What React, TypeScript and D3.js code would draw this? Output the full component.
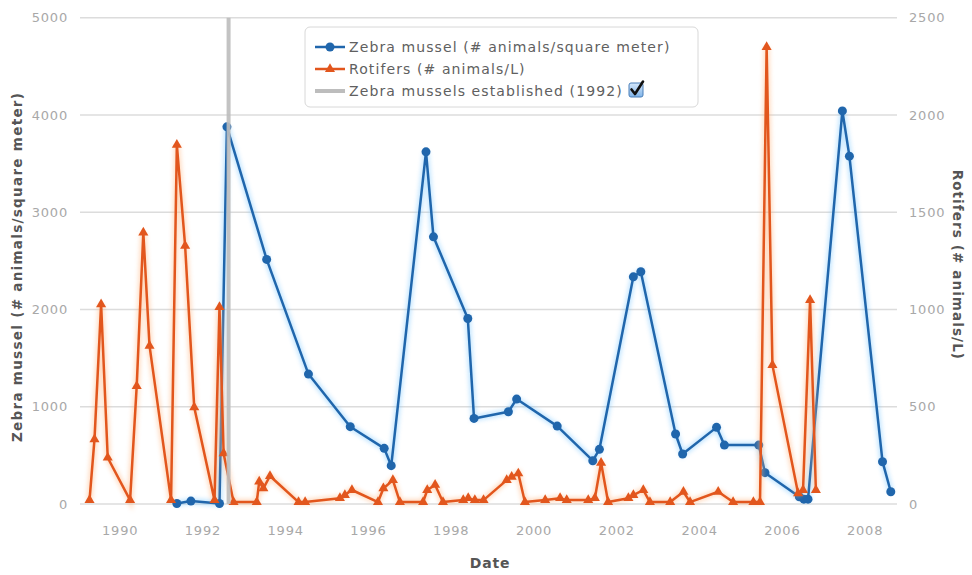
import React from 'react';
import * as d3 from 'd3';

// sampling dates as decimal years (May / August samples)
const zebraDates = [
  1991.37, 1991.71, 1992.40, 1992.58, 1993.54, 1994.55, 1995.56, 1996.38, 1996.55,
  1997.39, 1997.57, 1998.40, 1998.55, 1999.38, 1999.58, 2000.56, 2001.42, 2001.58,
  2002.40, 2002.58, 2003.42, 2003.59, 2004.41, 2004.60, 2005.43, 2005.58, 2006.41,
  2006.52, 2006.62, 2007.45, 2007.62, 2008.42, 2008.62
];
const zebraValues = [
  5, 30, 5, 3878, 2515, 1336, 795, 572, 394,
  3621, 2747, 1908, 880, 949, 1079, 801, 445, 562,
  2336, 2388, 720, 514, 788, 606, 606, 322, 75,
  50, 50, 4042, 3577, 435, 126
];

const rotiferDates = [
  1989.26, 1989.38, 1989.54, 1989.70, 1990.24, 1990.40, 1990.56, 1990.71,
  1991.23, 1991.37, 1991.57, 1991.79, 1992.28, 1992.40, 1992.50, 1992.74,
  1993.30, 1993.36, 1993.46, 1993.62, 1994.31, 1994.47, 1995.31, 1995.43,
  1995.60, 1996.23, 1996.36, 1996.59, 1996.76, 1997.32, 1997.42, 1997.61,
  1997.80, 1998.29, 1998.41, 1998.57, 1998.78, 1999.34, 1999.46, 1999.62,
  1999.78, 2000.27, 2000.63, 2000.79, 2001.31, 2001.47, 2001.62, 2001.79,
  2002.28, 2002.40, 2002.64, 2002.80, 2003.29, 2003.61, 2003.77, 2004.45,
  2004.81, 2005.30, 2005.46, 2005.62, 2005.76, 2006.38, 2006.50, 2006.67,
  2006.81
];
const rotiferValues = [
  20, 332, 1027, 238, 20, 606, 1395, 813,
  20, 1847, 1327, 497, 20, 1013, 260, 10,
  10, 115, 80, 144, 10, 10, 30, 46,
  72, 10, 80, 123, 10, 10, 72, 98,
  10, 20, 30, 20, 20, 123, 140, 157,
  10, 20, 30, 20, 20, 30, 212, 10,
  30, 46, 72, 10, 10, 63, 10, 63,
  10, 10, 10, 2349, 714, 55, 72, 1048,
  72
];

const establishedYear = 1992.62;

const leftTicks = [0, 1000, 2000, 3000, 4000, 5000];
const rightTicks = [0, 500, 1000, 1500, 2000, 2500];
const yearTicks = [1990, 1992, 1994, 1996, 1998, 2000, 2002, 2004, 2006, 2008];

const legendItems = [
  'Zebra mussel (# animals/square meter)',
  'Rotifers (# animals/L)',
  'Zebra mussels established (1992)'
];

const BLUE = '#2066ac';
const ORANGE = '#e2561d';
const GRAY = '#bdbdbd';

export default function App() {
  const width = 972;
  const height = 575;
  const plot = { left: 80, right: 897, top: 17.75, bottom: 504 };

  const x = d3.scaleLinear().domain([1989.03, 2008.77]).range([plot.left, plot.right]);
  const yLeft = d3.scaleLinear().domain([0, 5000]).range([plot.bottom, plot.top]);
  const yRight = d3.scaleLinear().domain([0, 2500]).range([plot.bottom, plot.top]);

  const zebra = zebraDates.map((d, i) => ({ d, v: zebraValues[i] }));
  const rotifers = rotiferDates.map((d, i) => ({ d, v: rotiferValues[i] }));

  const zebraLine = d3.line<{ d: number; v: number }>().x(p => x(p.d)).y(p => yLeft(p.v));
  const rotiferLine = d3.line<{ d: number; v: number }>().x(p => x(p.d)).y(p => yRight(p.v));
  const triangle = d3.symbol().type(d3.symbolTriangle).size(44)();

  const font = '"DejaVu Sans", Verdana, sans-serif';

  return (
    <div style={{ position: 'absolute', left: 0, top: 0 }}>
      <svg width={width} height={height} style={{ display: 'block', background: '#fff' }}>
        <defs>
          <filter id="glow" x="-5%" y="-5%" width="110%" height="110%">
            <feGaussianBlur stdDeviation="2" />
          </filter>
          <linearGradient id="checkFill" x1="0" y1="0" x2="0" y2="1">
            <stop offset="0" stopColor="#d6e8fb" />
            <stop offset="1" stopColor="#7fb3e8" />
          </linearGradient>
        </defs>

        {/* grid */}
        {leftTicks.map(t => (
          <line key={t} x1={plot.left} x2={plot.right} y1={yLeft(t)} y2={yLeft(t)}
            stroke="#dcdcdc" strokeWidth={1.5} />
        ))}

        {/* left axis labels */}
        {leftTicks.map(t => (
          <text key={t} x={68} y={yLeft(t) + 4.5} textAnchor="end" fontSize={13}
            letterSpacing={0.8} fontFamily={font} fill="#a8a8a8">{t}</text>
        ))}
        {/* right axis labels */}
        {rightTicks.map(t => (
          <text key={t} x={909} y={yRight(t) + 4.5} textAnchor="start" fontSize={13}
            letterSpacing={0.8} fontFamily={font} fill="#a8a8a8">{t}</text>
        ))}
        {/* x axis labels */}
        {yearTicks.map(t => (
          <text key={t} x={x(t)} y={535} textAnchor="middle" fontSize={13}
            letterSpacing={0.8} fontFamily={font} fill="#a8a8a8">{t}</text>
        ))}

        {/* axis titles */}
        <text x={490} y={568} textAnchor="middle" fontSize={14} fontWeight="bold"
          letterSpacing={0.8} fontFamily={font} fill="#555">Date</text>
        <text transform={`translate(22, ${(plot.top + plot.bottom) / 2 + 6}) rotate(-90)`}
          textAnchor="middle" fontSize={13.5} fontWeight="bold" fontFamily={font}
          letterSpacing={1.3} fill="#555">Zebra mussel (# animals/square meter)</text>
        <text transform={`translate(953, ${(plot.top + plot.bottom) / 2 + 4}) rotate(90)`}
          textAnchor="middle" fontSize={13.5} fontWeight="bold" fontFamily={font}
          letterSpacing={1.1} fill="#555">Rotifers (# animals/L)</text>

        {/* zebra mussel series */}
        <path d={zebraLine(zebra) || ''} fill="none" stroke="#7cc8ff" strokeWidth={6}
          opacity={0.45} filter="url(#glow)" />
        <path d={zebraLine(zebra) || ''} fill="none" stroke={BLUE} strokeWidth={2.5}
          strokeLinejoin="round" />
        {zebra.map((p, i) => (
          <circle key={i} cx={x(p.d)} cy={yLeft(p.v)} r={4.5} fill={BLUE} />
        ))}

        {/* rotifer series */}
        <path d={rotiferLine(rotifers) || ''} fill="none" stroke="#ffb27a" strokeWidth={6}
          opacity={0.45} filter="url(#glow)" />
        <path d={rotiferLine(rotifers) || ''} fill="none" stroke={ORANGE} strokeWidth={2.5}
          strokeLinejoin="round" />
        {rotifers.map((p, i) => (
          <path key={i} d={triangle || ''} transform={`translate(${x(p.d)}, ${yRight(p.v)})`}
            fill={ORANGE} />
        ))}

        {/* established marker line */}
        <line x1={x(establishedYear)} x2={x(establishedYear)} y1={plot.top} y2={plot.bottom}
          stroke={GRAY} strokeWidth={4} opacity={0.9} />

        {/* legend */}
        <rect x={305} y={27} width={393} height={80} rx={5} fill="#fff" fillOpacity={0.92}
          stroke="#d8d8d8" strokeWidth={1} />
        {legendItems.map((label, i) => {
          const ly = 47 + i * 22;
          return (
            <g key={label}>
              {i === 0 && (
                <g>
                  <line x1={315} x2={345} y1={ly} y2={ly} stroke={BLUE} strokeWidth={2.5} />
                  <circle cx={330} cy={ly} r={4.5} fill={BLUE} />
                </g>
              )}
              {i === 1 && (
                <g>
                  <line x1={315} x2={345} y1={ly} y2={ly} stroke={ORANGE} strokeWidth={2.5} />
                  <path d={triangle || ''} transform={`translate(330, ${ly})`} fill={ORANGE} />
                </g>
              )}
              {i === 2 && (
                <line x1={315} x2={345} y1={ly} y2={ly} stroke={GRAY} strokeWidth={4} />
              )}
              <text x={349} y={ly + 5} fontSize={14} letterSpacing={1.1} fontFamily={font}
                fill="#606060">{label}</text>
            </g>
          );
        })}
        {/* checkbox */}
        <rect x={629} y={83} width={14} height={14} rx={2} fill="url(#checkFill)"
          stroke="#4a7fb8" strokeWidth={1} />
        <path d="M631.5,89.5 L635,94 L643,81.5" fill="none" stroke="#111" strokeWidth={2.6}
          strokeLinecap="round" strokeLinejoin="round" />
      </svg>
    </div>
  );
}
